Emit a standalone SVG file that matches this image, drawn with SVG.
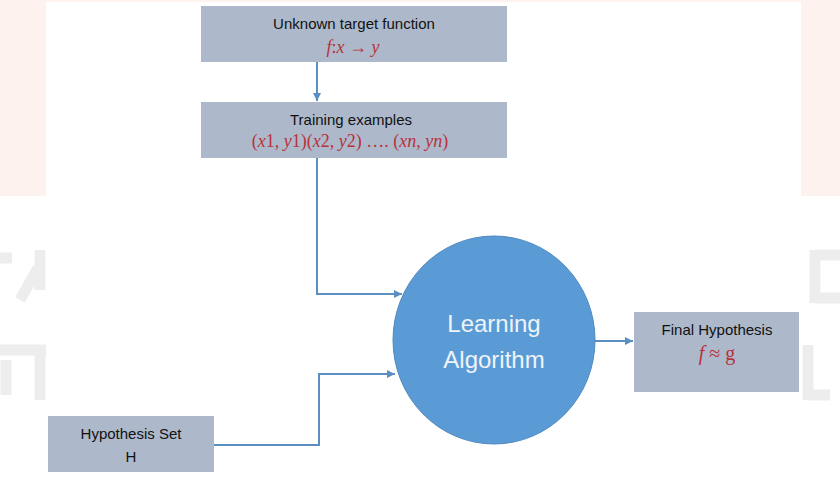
<svg xmlns="http://www.w3.org/2000/svg" width="840" height="504" viewBox="0 0 840 504">
<style>
.box{fill:#ADB9CA;}
.lbl{font-family:"Liberation Sans",Arial,sans-serif;font-size:15px;fill:#111111;text-anchor:middle;}
.math{font-family:"Liberation Serif","Times New Roman",serif;font-size:18px;fill:#B8323A;text-anchor:middle;}
.it{font-style:italic;}
.conn{fill:none;stroke:#5B8FC2;stroke-width:2;}
.wm{fill:none;stroke:#EDEDED;stroke-width:11;stroke-linecap:butt;}
.circ{font-family:"Liberation Sans",Arial,sans-serif;font-size:24px;fill:#EEF4FA;text-anchor:middle;}
</style>
<defs>
<marker id="ah" viewBox="0 0 10 10" refX="10" refY="5" markerWidth="4" markerHeight="4" orient="auto">
<path d="M0,0 L10,5 L0,10 z" fill="#5B8FC2"/>
</marker>
</defs>
<rect x="0" y="0" width="840" height="504" fill="#FFFFFF"/>
<g id="background">
<rect x="0" y="0" width="46" height="196" fill="#FDF2EE"/>
<rect x="801" y="0" width="39" height="196" fill="#FDF2EE"/>
<rect x="46" y="0" width="755" height="2" fill="#FDF2EE"/>
<path class="wm" d="M0,258 H12 M40,250 V290 M38,268 L20,300"/>
<path class="wm" d="M0,350 H46 M40,350 V400 M6,360 V395"/>
<path class="wm" d="M815,250 V303 M815,255 H840 M815,298 H840"/>
<path class="wm" d="M808,345 V400 M808,395 H830"/>
</g>
<g id="connectors">
<line class="conn" x1="317" y1="62" x2="317" y2="101" marker-end="url(#ah)"/>
<polyline class="conn" points="317,158 317,294 402,294" marker-end="url(#ah)"/>
<polyline class="conn" points="214,445 319,445 319,374 395,374" marker-end="url(#ah)"/>
<line class="conn" x1="595" y1="341" x2="633" y2="341" marker-end="url(#ah)"/>
</g>
<g id="target">
<rect class="box" x="201" y="6" width="306" height="56"/>
<text class="lbl" x="354" y="29">Unknown target function</text>
<text class="math" x="353" y="53"><tspan class="it">f</tspan>:<tspan class="it">x</tspan> → <tspan class="it">y</tspan></text>
</g>
<g id="training">
<rect class="box" x="201" y="102" width="306" height="56"/>
<text class="lbl" x="351" y="125">Training examples</text>
<text class="math" x="350" y="147">(<tspan class="it">x</tspan>1, <tspan class="it">y</tspan>1)(<tspan class="it">x</tspan>2, <tspan class="it">y</tspan>2) …. (<tspan class="it">xn</tspan>, <tspan class="it">yn</tspan>)</text>
</g>
<g id="hypothesis-set">
<rect class="box" x="48" y="416" width="166" height="56"/>
<text class="lbl" x="131" y="439">Hypothesis Set</text>
<text class="lbl" x="131" y="462">H</text>
</g>
<g id="learning">
<ellipse cx="494" cy="340" rx="101" ry="104" fill="#5B9BD5" stroke="#4F89BF" stroke-width="1"/>
<text class="circ" x="494" y="332">Learning</text>
<text class="circ" x="494" y="368">Algorithm</text>
</g>
<g id="final">
<rect class="box" x="634" y="312" width="165" height="80"/>
<text class="lbl" x="717" y="335">Final Hypothesis</text>
<text class="math" x="717" y="360" style="font-size:20px"><tspan class="it">f</tspan> ≈ g</text>
</g>
</svg>
